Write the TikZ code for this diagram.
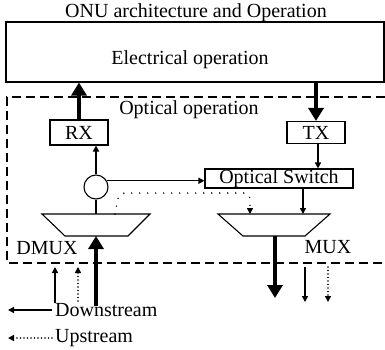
\documentclass[tikz,border=0pt]{standalone}
\usepackage{fontspec}
\setmainfont{Liberation Serif}
\usetikzlibrary{positioning,arrows.meta}

\begin{document}
\begin{tikzpicture}[
    x=1pt, y=-1pt,
    every node/.style={
        font=\fontsize{20}{24}\selectfont
    },
    box/.style={
        rectangle,
        draw,
        line width=1.1pt,
        inner sep=0pt,
        minimum width=58pt,
        minimum height=23pt
    },
    label/.style={
        anchor=base,
        inner sep=0pt
    },
    bigarrow/.style={
        -{Triangle[length=13pt,width=15pt]},
        line width=3.8pt
    },
    arrow/.style={
        -{Triangle[length=6pt,width=6pt]},
        line width=1.4pt
    },
    dotarrow/.style={
        arrow,
        line cap=round,
        dash pattern=on 0pt off 3.5pt,
        line width=1.6pt
    },
    muxshape/.style={
        draw,
        line width=1.1pt
    }
]
\useasboundingbox (0,0) rectangle (385,349);

% ---------------- TITLE ----------------
\node[label] (title) at (196,17) {ONU architecture and Operation};

% ---------------- ELECTRICAL ----------------
\node[box, minimum width=378pt, minimum height=60pt] (elec) at (195,52) {};
\node[label] (electxt) at (190,64) {Electrical operation};

% ---------------- OPTICAL ----------------
\draw[line width=1.1pt, dash pattern=on 9pt off 5pt]
    (385,97) -- (7,97) -- (7,263) -- (385,263);
\node[label] (opttxt) at (189,114) {Optical operation};

\node[box, minimum height=25pt] (rx) at (79,132.5) {RX};
\node[box, minimum height=22pt] (tx) at (316,132.5) {TX};
\node[box, minimum width=148pt, minimum height=19pt] (sw) at (279,178.5) {Optical Switch};
\node[circle, draw, line width=1.1pt, minimum size=24pt, inner sep=0pt] (split) at (96,187) {};

% ---------------- DMUX / MUX ----------------
\coordinate (dmuxtop) at (96,214);
\coordinate (dmuxbot) at (96,236);
\draw[muxshape] (42,214) -- (150,214) -- (128,236) -- (65,236) -- cycle;
\node[label] (dmuxtxt) at (47,254) {DMUX};

\coordinate (muxtop) at (274,214);
\coordinate (muxbot) at (274,236);
\draw[muxshape] (218,214) -- (330,214) -- (305,236) -- (243,236) -- cycle;
\node[label] (muxtxt) at (328,253) {MUX};

% ---------------- ARROWS ----------------
\draw[bigarrow] (rx.north) -- (rx.north |- elec.south);
\draw[bigarrow] (tx.north |- elec.south) -- (tx.north);
\draw[arrow] (split.north) -- (split.north |- rx.south);
\draw[line width=2.2pt] (split.south) -- (split.south |- dmuxtop);
\draw[arrow] (split.30) -- (split.30 -| sw.west);
\draw[arrow] ([xshift=2pt]tx.south) -- ([xshift=2pt]tx.south |- sw.north);
\draw[arrow] ([xshift=24pt]sw.south) -- ([xshift=24pt]sw.south |- muxtop);
\draw[dotarrow, dash pattern=on 0pt off 8pt, rounded corners=6pt]
    ([xshift=19pt]dmuxtop) -- (119,193) -- (250,193) -- (250,214);

% ---------------- PORTS ----------------
\coordinate (dsin) at (96,306);
\coordinate (dsin2) at (55,303);
\coordinate (usin) at (78,301);
\coordinate (dsout) at (275,298);
\coordinate (dsout2) at (305,302);
\coordinate (usout) at (328,302);
\draw[bigarrow] (dsin) -- (dmuxbot);
\draw[arrow] (dsin2) -- (55,267);
\draw[dotarrow] (usin) -- (78,267);
\draw[bigarrow] (dsout |- muxbot) -- (dsout);
\draw[arrow] (305,267) -- (dsout2);
\draw[dotarrow] (328,267) -- (usout);

% ---------------- LEGEND ----------------
\coordinate (dsleg) at (52,310);
\coordinate (usleg) at (52,338);
\draw[arrow] (dsleg) -- (8,310);
\draw[dotarrow] (usleg) -- (8,338);
\node[right=3pt of dsleg, inner sep=0pt] (dstxt) {Downstream};
\node[right=3pt of usleg, inner sep=0pt] (ustxt) {Upstream};

\end{tikzpicture}
\end{document}
